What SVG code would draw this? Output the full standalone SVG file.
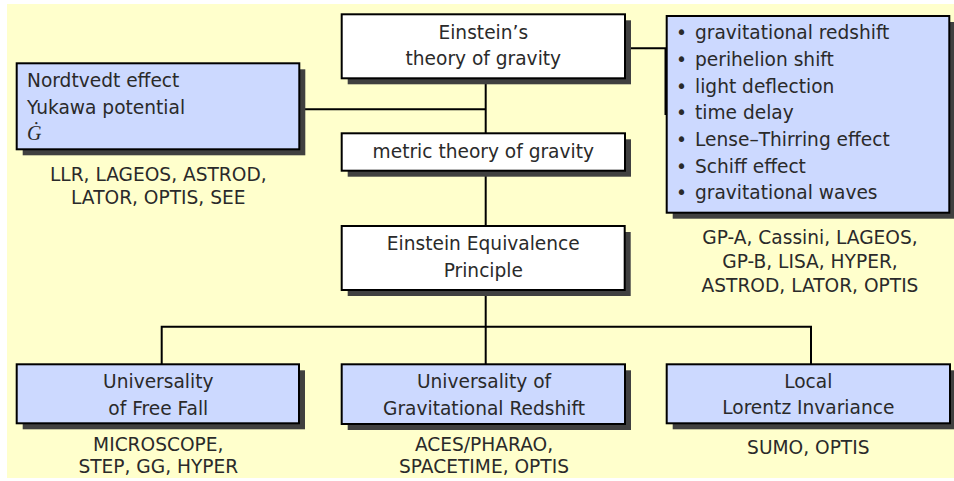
<svg xmlns="http://www.w3.org/2000/svg" width="954" height="481" viewBox="0 0 954 481">
<style>
.bg{fill:#ffffcc}
.sh{fill:#404040}
.box{stroke:#000;stroke-width:2}
.w{fill:#ffffff}
.b{fill:#ccd9ff}
.t{font-family:"DejaVu Sans","Liberation Sans",sans-serif;font-size:18.6px;fill:#2a2a2a}
.c{text-anchor:middle}
.m{font-family:"Liberation Serif","DejaVu Serif",serif;font-style:italic;font-size:20px;fill:#2a2a2a}
.conn{stroke:#000;stroke-width:2;fill:none}
</style>
<rect class="bg" x="7" y="4" width="947" height="474"/>
<g id="connectors">
<path class="conn" d="M485.7,78 V133"/>
<path class="conn" d="M299,109.3 H485.7"/>
<path class="conn" d="M625,48.3 H665.5 V115"/>
<path class="conn" d="M485.7,171 V226"/>
<path class="conn" d="M485.7,290 V364"/>
<path class="conn" d="M161.7,364 V326.7 H811 V364"/>
</g>
<g id="einstein">
<rect class="sh" x="347.7" y="20.3" width="283.3" height="64"/>
<rect class="box w" x="341.7" y="14.3" width="283.3" height="64"/>
<text class="t c" x="483.3" y="39">Einstein’s</text>
<text class="t c" x="483.3" y="64.5">theory of gravity</text>
</g>
<g id="metric">
<rect class="sh" x="347.7" y="139.3" width="283.3" height="37.4"/>
<rect class="box w" x="341.7" y="133.3" width="283.3" height="37.4"/>
<text class="t c" x="483.3" y="158">metric theory of gravity</text>
</g>
<g id="eep">
<rect class="sh" x="347.7" y="232" width="283" height="64"/>
<rect class="box w" x="341.7" y="226" width="283" height="64"/>
<text class="t c" x="483.3" y="250">Einstein Equivalence</text>
<text class="t c" x="483.3" y="276.7">Principle</text>
</g>
<g id="nordtvedt">
<rect class="sh" x="22.7" y="69.3" width="282.6" height="86"/>
<rect class="box b" x="16.7" y="63.3" width="282.6" height="86"/>
<text class="t" x="27" y="87">Nordtvedt effect</text>
<text class="t" x="27" y="114">Yukawa potential</text>
<text class="m" x="27" y="140">Ġ</text>
<text class="t c" x="158.3" y="180.5">LLR, LAGEOS, ASTROD,</text>
<text class="t c" x="158.3" y="203.5">LATOR, OPTIS, SEE</text>
</g>
<g id="effects">
<rect class="sh" x="672.7" y="22" width="282.6" height="196.7"/>
<rect class="box b" x="666.7" y="16" width="282.6" height="196.7"/>
<g class="t">
<text x="676" y="39.3">•</text><text x="695" y="39.3">gravitational redshift</text>
<text x="676" y="66">•</text><text x="695" y="66">perihelion shift</text>
<text x="676" y="92.7">•</text><text x="695" y="92.7">light deflection</text>
<text x="676" y="119.3">•</text><text x="695" y="119.3">time delay</text>
<text x="676" y="146">•</text><text x="695" y="146">Lense–Thirring effect</text>
<text x="676" y="172.7">•</text><text x="695" y="172.7">Schiff effect</text>
<text x="676" y="199.3">•</text><text x="695" y="199.3">gravitational waves</text>
</g>
<text class="t c" x="810" y="243.5">GP-A, Cassini, LAGEOS,</text>
<text class="t c" x="810" y="267.5">GP-B, LISA, HYPER,</text>
<text class="t c" x="810" y="291.5">ASTROD, LATOR, OPTIS</text>
</g>
<g id="uff">
<rect class="sh" x="22.7" y="370.3" width="282.3" height="59"/>
<rect class="box b" x="16.7" y="364.3" width="282.3" height="59"/>
<text class="t c" x="158.3" y="388.3">Universality</text>
<text class="t c" x="158.3" y="415">of Free Fall</text>
<text class="t c" x="158.3" y="450.5">MICROSCOPE,</text>
<text class="t c" x="158.3" y="473">STEP, GG, HYPER</text>
</g>
<g id="ugr">
<rect class="sh" x="347.7" y="370.3" width="283.3" height="59.7"/>
<rect class="box b" x="341.7" y="364.3" width="283.3" height="59.7"/>
<text class="t c" x="484" y="387.5">Universality of</text>
<text class="t c" x="484" y="414.5">Gravitational Redshift</text>
<text class="t c" x="484" y="450.5">ACES/PHARAO,</text>
<text class="t c" x="484" y="473">SPACETIME, OPTIS</text>
</g>
<g id="lli">
<rect class="sh" x="672.7" y="370.3" width="283.3" height="59"/>
<rect class="box b" x="666.7" y="364.3" width="283.3" height="59"/>
<text class="t c" x="808.3" y="388.3">Local</text>
<text class="t c" x="808.3" y="414.3">Lorentz Invariance</text>
<text class="t c" x="808.3" y="454">SUMO, OPTIS</text>
</g>
</svg>
